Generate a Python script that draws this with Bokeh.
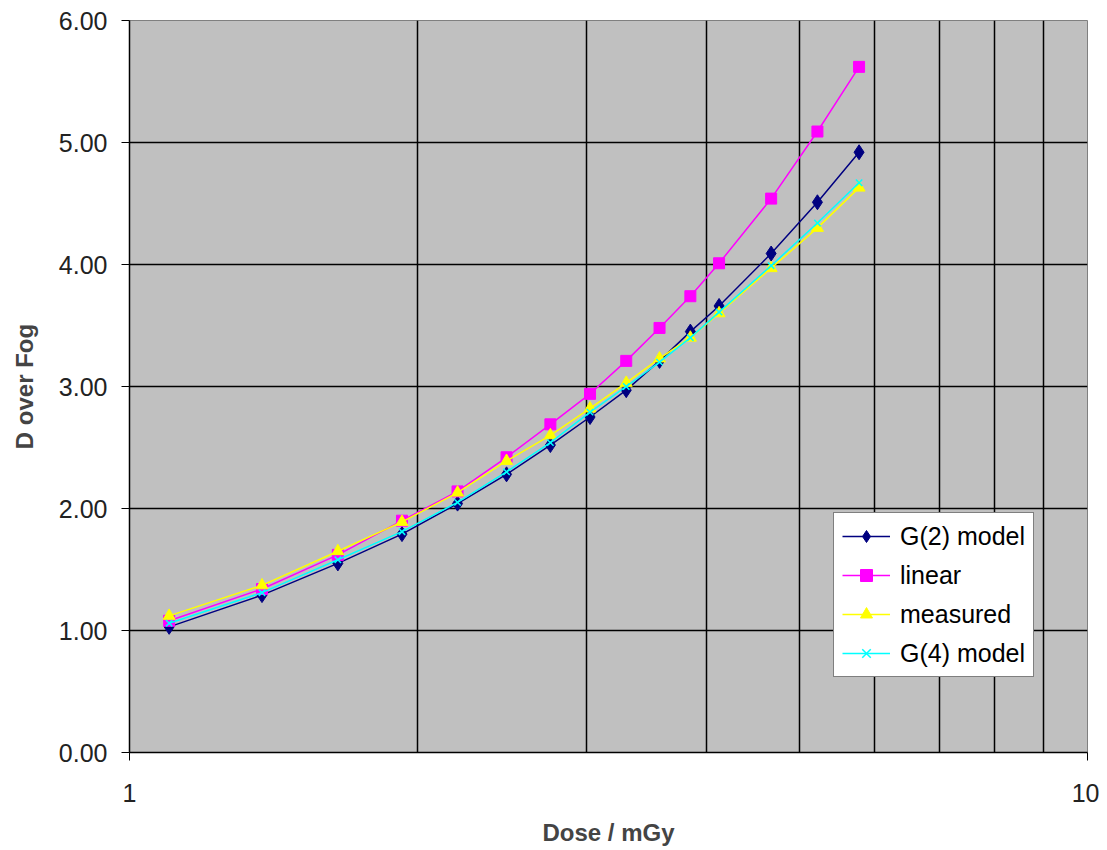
from bokeh.plotting import figure
from bokeh.models import (FixedTicker, Range1d, Legend, LegendItem, NumeralTickFormatter, Grid)
from bokeh.embed import file_html
from bokeh.resources import INLINE

dose = [1.1, 1.375, 1.65, 1.925, 2.2, 2.475, 2.75, 3.025, 3.3, 3.575, 3.85, 4.125, 4.675, 5.225, 5.775]
g2_model = [1.03, 1.29, 1.55, 1.79, 2.04, 2.28, 2.52, 2.75, 2.97, 3.21, 3.45, 3.66, 4.09, 4.51, 4.92]
linear = [1.08, 1.34, 1.62, 1.90, 2.14, 2.42, 2.69, 2.94, 3.21, 3.48, 3.74, 4.01, 4.54, 5.09, 5.62]
measured = [1.12, 1.37, 1.65, 1.89, 2.13, 2.39, 2.60, 2.82, 3.03, 3.23, 3.40, 3.60, 3.97, 4.30, 4.63]
g4_model = [1.06, 1.31, 1.58, 1.81, 2.05, 2.30, 2.54, 2.79, 3.00, 3.20, 3.40, 3.61, 3.99, 4.34, 4.67]

y_ticks = [0, 1, 2, 3, 4, 5, 6]
x_label_ticks = [1, 10]
x_label_text = {1: "1", 10: "10"}
x_grid_ticks = [2, 3, 4, 5, 6, 7, 8, 9]

FONT = "Liberation Sans"

p = figure(width=1099, height=842, x_axis_type="log",
           x_range=Range1d(1, 10), y_range=Range1d(0, 6),
           output_backend="svg", toolbar_location=None,
           min_border_left=129, min_border_right=12, min_border_top=20, min_border_bottom=90)
p.frame_width = 958
p.frame_height = 732

p.border_fill_color = "white"
p.outline_line_color = "#808080"
p.outline_line_width = 1
p.background_fill_color = "#c0c0c0"

# grids
p.xgrid.visible = False
p.ygrid.ticker = FixedTicker(ticks=y_ticks)
p.ygrid.grid_line_color = "black"
p.ygrid.grid_line_width = 1.5
vgrid = Grid(dimension=0, ticker=FixedTicker(ticks=x_grid_ticks),
             grid_line_color="black", grid_line_width=1.5)
p.add_layout(vgrid)

# axes
xa = p.xaxis[0]
xa.ticker = FixedTicker(ticks=x_label_ticks, minor_ticks=[])
xa.major_label_overrides = x_label_text
xa.major_tick_out = 8
xa.major_tick_in = 0
xa.minor_tick_out = 0
xa.minor_tick_in = 0
xa.axis_line_color = "black"
xa.axis_line_width = 1.5
xa.major_tick_line_color = "black"
xa.major_label_standoff = 23
xa.major_label_text_font = FONT
xa.major_label_text_font_size = "25px"
xa.major_label_text_color = "#222222"
xa.axis_label = "Dose / mGy"
xa.axis_label_text_font = FONT
xa.axis_label_text_font_size = "24px"
xa.axis_label_text_font_style = "bold"
xa.axis_label_standoff = 14

ya = p.yaxis[0]
ya.ticker = FixedTicker(ticks=y_ticks, minor_ticks=[])
ya.formatter = NumeralTickFormatter(format="0.00")
ya.major_tick_out = 8
ya.major_tick_in = 0
ya.minor_tick_out = 0
ya.minor_tick_in = 0
ya.axis_line_color = "black"
ya.axis_line_width = 1.5
ya.major_label_standoff = 14
ya.major_label_text_font = FONT
ya.major_label_text_font_size = "25px"
ya.major_label_text_color = "#222222"
ya.axis_label = "D over Fog"
ya.axis_label_text_font = FONT
ya.axis_label_text_font_size = "24px"
ya.axis_label_text_font_style = "bold"
ya.axis_label_standoff = 18

series = [
    ("G(2) model", g2_model, "#000080", "diamond", 15),
    ("linear", linear, "#ff00ff", "square", 11),
    ("measured", measured, "#ffff00", "triangle", 12),
    ("G(4) model", g4_model, "#00ffff", "x", 9),
]

items = []
for name, ys, color, marker, size in series:
    ln = p.line(dose, ys, line_color=color, line_width=1.5)
    mk = p.scatter(dose, ys, marker=marker, size=size, fill_color=color,
                   line_color=color, line_width=1.5 if marker == "x" else 1)
    items.append(LegendItem(label=name, renderers=[ln, mk]))

legend = Legend(items=items, location=(704, 75))
legend.label_text_font = FONT
legend.label_text_font_size = "25px"
legend.label_text_color = "black"
legend.glyph_width = 48
legend.glyph_height = 30
legend.label_height = 30
legend.spacing = 9
legend.padding = 8
legend.margin = 0
legend.label_standoff = 10
legend.border_line_color = "black"
legend.border_line_width = 1.5
legend.background_fill_color = "white"
legend.background_fill_alpha = 1
p.add_layout(legend, "center")

open("out.html", "w").write(file_html(p, INLINE))
